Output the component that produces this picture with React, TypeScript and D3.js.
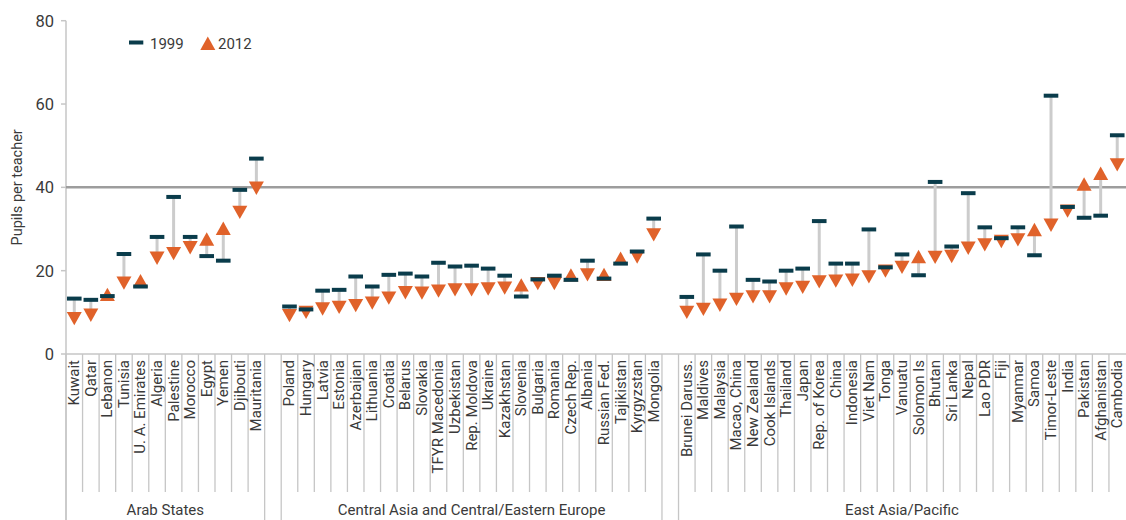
import React from "react";
import * as d3 from "d3";

const groupNames = ["Arab States", "Central Asia and Central/Eastern Europe", "East Asia/Pacific"];

const arabCountries = ["Kuwait", "Qatar", "Lebanon", "Tunisia", "U. A. Emirates", "Algeria", "Palestine", "Morocco", "Egypt", "Yemen", "Djibouti", "Mauritania"];
const arab1999 = [13.3, 13.0, 13.9, 24.0, 16.2, 28.1, 37.7, 28.1, 23.5, 22.4, 39.4, 46.9];
const arab2012 = [8.5, 9.3, 14.3, 17.0, 17.6, 23.0, 24.1, 25.5, 27.6, 30.2, 34.0, 39.8];

const centralCountries = ["Poland", "Hungary", "Latvia", "Estonia", "Azerbaijan", "Lithuania", "Croatia", "Belarus", "Slovakia", "TFYR Macedonia", "Uzbekistan", "Rep. Moldova", "Ukraine", "Kazakhstan", "Slovenia", "Bulgaria", "Romania", "Czech Rep.", "Albania", "Russian Fed.", "Tajikistan", "Kyrgyzstan", "Mongolia"];
const central1999 = [11.4, 10.7, 15.2, 15.4, 18.6, 16.2, 19.0, 19.3, 18.6, 21.9, 21.0, 21.2, 20.5, 18.8, 13.8, 17.9, 18.8, 17.8, 22.4, 18.1, 21.7, 24.6, 32.5];
const central2012 = [9.2, 10.0, 10.8, 11.2, 11.6, 12.2, 13.4, 14.7, 14.6, 15.1, 15.4, 15.4, 15.6, 15.8, 16.6, 16.9, 16.9, 19.0, 19.0, 19.1, 23.0, 23.3, 28.6];

const eastCountries = ["Brunei Daruss.", "Maldives", "Malaysia", "Macao, China", "New Zealand", "Cook Islands", "Thailand", "Japan", "Rep. of Korea", "China", "Indonesia", "Viet Nam", "Tonga", "Vanuatu", "Solomon Is", "Bhutan", "Sri Lanka", "Nepal", "Lao PDR", "Fiji", "Myanmar", "Samoa", "Timor-Leste", "India", "Pakistan", "Afghanistan", "Cambodia"];
const east1999 = [13.7, 23.9, 20.0, 30.6, 17.8, 17.4, 20.0, 20.5, 31.9, 21.7, 21.7, 29.9, 20.8, 23.9, 18.9, 41.3, 25.8, 38.6, 30.4, 27.8, 30.4, 23.7, 62.0, 35.3, 32.7, 33.2, 52.5];
const east2012 = [10.0, 10.7, 11.7, 13.1, 13.7, 13.7, 15.6, 16.0, 17.3, 17.5, 17.7, 18.5, 19.9, 20.8, 23.4, 23.2, 23.4, 25.4, 26.2, 27.0, 27.4, 29.9, 30.9, 34.3, 40.8, 43.4, 45.4];

const yTicks = [0, 20, 40, 60, 80];
const referenceValue = 40;
const legendLabels = ["1999", "2012"];

const W = 1126;
const H = 520;
const TEAL = "#0a3c4b";
const ORANGE = "#e0622a";
const GRID = "#c6c6c6";
const TEXT = "#3a3a3a";
const FONT = "Roboto, 'Liberation Sans', Arial, sans-serif";

type Row = { key: string; name: string; v1999: number; v2012: number; group: number };

const groupsData = [
  { names: arabCountries, a: arab1999, b: arab2012 },
  { names: centralCountries, a: central1999, b: central2012 },
  { names: eastCountries, a: east1999, b: east2012 },
];

const slots: string[] = [];
const rows: Row[] = [];
const groupSpans: { start: string; end: string; name: string }[] = [];
groupsData.forEach((g, gi) => {
  g.names.forEach((n, i) => {
    const key = `${gi}-${n}`;
    slots.push(key);
    rows.push({ key, name: n, v1999: g.a[i], v2012: g.b[i], group: gi });
  });
  groupSpans.push({ start: `${gi}-${g.names[0]}`, end: `${gi}-${g.names[g.names.length - 1]}`, name: groupNames[gi] });
  if (gi < groupsData.length - 1) slots.push(`gap-${gi}`);
});

export default function App() {
  const x = d3.scaleBand<string>().domain(slots).range([66, 1125.5]).padding(0);
  const y = d3.scaleLinear().domain([0, 80]).range([354, 20.7]);
  const bw = x.bandwidth();
  const axisY = y(0);
  const tickBottom = 492;

  const triPath = (cx: number, cy: number, up: boolean) => {
    const hw = 7.5;
    const hh = 6.7;
    return up
      ? `M${cx - hw},${cy + hh}L${cx + hw},${cy + hh}L${cx},${cy - hh}Z`
      : `M${cx - hw},${cy - hh}L${cx + hw},${cy - hh}L${cx},${cy + hh}Z`;
  };

  const shortLines: number[] = [];
  const longLines: number[] = [66];
  groupSpans.forEach((g, gi) => {
    const s = x(g.start)!;
    const e = x(g.end)! + bw;
    if (gi > 0) longLines.push(s);
    if (gi < groupSpans.length - 1) longLines.push(e);
  });
  rows.forEach((r, i) => {
    const xs = x(r.key)!;
    const prev = i > 0 ? rows[i - 1] : null;
    if (prev && prev.group === r.group) shortLines.push(xs);
  });

  return (
    <svg width={W} height={H} style={{ position: "absolute", left: 0, top: 0, background: "#fff" }} fontFamily={FONT}>
      <line x1={66} x2={66} y1={y(80)} y2={H} stroke={GRID} strokeWidth={1.5} />
      {yTicks.map((t) => (
        <g key={t}>
          <line x1={61} x2={66} y1={y(t)} y2={y(t)} stroke={GRID} strokeWidth={1.5} />
          <text x={54} y={y(t)} dy="0.36em" textAnchor="end" fontSize={16.5} fill={TEXT}>
            {t}
          </text>
        </g>
      ))}
      <text transform={`translate(22,${y(40)}) rotate(-90)`} textAnchor="middle" fontSize={14.5} fill={TEXT}>
        Pupils per teacher
      </text>

      <line x1={66} x2={W} y1={axisY} y2={axisY} stroke={GRID} strokeWidth={1.5} />
      {shortLines.map((lx, i) => (
        <line key={`s${i}`} x1={lx} x2={lx} y1={axisY} y2={tickBottom} stroke={GRID} strokeWidth={1.3} />
      ))}
      {longLines.map((lx, i) => (
        <line key={`l${i}`} x1={lx} x2={lx} y1={axisY} y2={H} stroke={GRID} strokeWidth={1.3} />
      ))}

      <line x1={66} x2={W} y1={y(referenceValue)} y2={y(referenceValue)} stroke="#9d9d9d" strokeWidth={2.5} />

      {rows.map((r) => {
        const cx = x(r.key)! + bw / 2;
        return <line key={`c${r.key}`} x1={cx} x2={cx} y1={y(r.v1999)} y2={y(r.v2012)} stroke="#cccccc" strokeWidth={3} />;
      })}
      {rows.map((r) => {
        const cx = x(r.key)! + bw / 2;
        return <path key={`t${r.key}`} d={triPath(cx, y(r.v2012), r.v2012 > r.v1999)} fill={ORANGE} />;
      })}
      {rows.map((r) => {
        const cx = x(r.key)! + bw / 2;
        return <rect key={`d${r.key}`} x={cx - 7.3} y={y(r.v1999) - 2} width={14.6} height={4} fill={TEAL} />;
      })}

      {rows.map((r) => {
        const cx = x(r.key)! + bw / 2;
        return (
          <text key={`lab${r.key}`} transform={`translate(${cx + 5},360) rotate(-90)`} textAnchor="end" fontSize={15} fill={TEXT}>
            {r.name}
          </text>
        );
      })}

      {groupSpans.map((g) => {
        const s = x(g.start)!;
        const e = x(g.end)! + bw;
        return (
          <text key={g.name} x={(s + e) / 2} y={515} textAnchor="middle" fontSize={15} fill={TEXT}>
            {g.name}
          </text>
        );
      })}

      <rect x={129} y={40.5} width={14.3} height={4} fill={TEAL} />
      <text x={150} y={49} fontSize={15} fill={TEXT}>{legendLabels[0]}</text>
      <path d={triPath(207.8, 43.3, true)} fill={ORANGE} />
      <text x={218} y={49} fontSize={15} fill={TEXT}>{legendLabels[1]}</text>
    </svg>
  );
}
